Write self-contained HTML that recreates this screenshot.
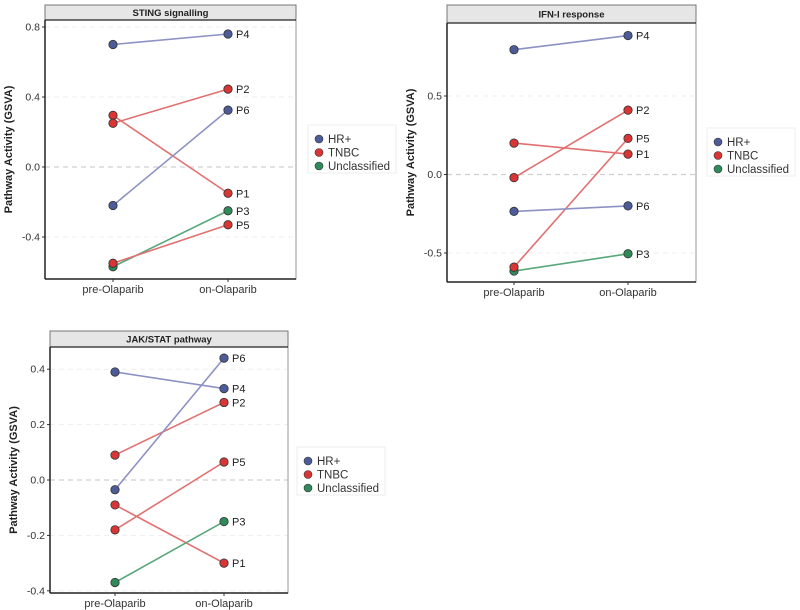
<!DOCTYPE html>
<html><head><meta charset="utf-8"><style>
html,body{margin:0;padding:0;background:#fff}
svg{display:block;font-family:"Liberation Sans",sans-serif}
</style></head><body>
<svg id="c" width="800" height="610"></svg>
<script>
const timepoints=["pre-Olaparib","on-Olaparib"];
const patients=["P1","P2","P3","P4","P5","P6"];
const groups=["TNBC","TNBC","Unclassified","HR+","TNBC","HR+"];
const stingPre=[0.295,0.25,-0.57,0.70,-0.55,-0.22];
const stingOn=[-0.15,0.445,-0.25,0.76,-0.33,0.325];
const stingTicks=[0.8,0.4,0.0,-0.4];
const ifnPre=[0.20,-0.02,-0.615,0.795,-0.59,-0.235];
const ifnOn=[0.13,0.41,-0.505,0.885,0.23,-0.20];
const ifnTicks=[0.5,0.0,-0.5];
const ifnTickLabels=["0.5","0.0","-0.5"];
const jakPre=[-0.09,0.09,-0.37,0.39,-0.18,-0.035];
const jakOn=[-0.30,0.28,-0.15,0.33,0.065,0.44];
const jakTicks=[0.4,0.2,0.0,-0.2,-0.4];
const legendLabels=["HR+","TNBC","Unclassified"];
const ptCol={"HR+":"#4d5b99","TNBC":"#d93535","Unclassified":"#2f8a5a"};
const lnCol={"HR+":"#8d92c4","TNBC":"#e27070","Unclassified":"#5aa87c"};
const svg=document.getElementById('c');
const NS="http://www.w3.org/2000/svg";
function mk(tag,attrs,parent){const e=document.createElementNS(NS,tag);for(const k in attrs)e.setAttribute(k,attrs[k]);(parent||svg).appendChild(e);return e;}
function panel(cfg){
  const g=mk('g',{});
  
  
  const y=v=>cfg.y0-(v)*cfg.k;
  const x=i=>i===0?cfg.xPre:cfg.xOn;
  const s=mk('rect',{x:cfg.l,y:cfg.st,width:cfg.r-cfg.l,height:cfg.t-cfg.st,fill:'#e6e6e6',stroke:'#777','stroke-width':1},g);
  
  
  const st=mk('text',{x:(cfg.l+cfg.r)/2,y:(cfg.st+cfg.t)/2+3.5,'text-anchor':'middle','font-size':9.5,'font-weight':'bold',fill:'#222'},g);
  st.textContent=cfg.title;
  
  
  cfg.ticks.forEach((t,i)=>{
    const yy=y(t);
    mk('line',{x1:cfg.l,x2:cfg.r,y1:yy,y2:yy,stroke:t===0?'#d0d0d0':'#eeeeee','stroke-width':t===0?1.3:1,'stroke-dasharray':'5,4'},g);
    mk('line',{x1:cfg.l-3,x2:cfg.l,y1:yy,y2:yy,stroke:'#333'},g);
    const tl=mk('text',{x:cfg.l-5,y:yy+3.5,'text-anchor':'end','font-size':10.5,fill:'#333'},g);
    tl.textContent=cfg.tickLabels?cfg.tickLabels[i]:t.toFixed(1);
    
    
  });
  mk('rect',{x:cfg.l,y:cfg.t,width:cfg.r-cfg.l,height:cfg.b-cfg.t,fill:'none',stroke:'#999'},g);
  mk('line',{x1:cfg.l,x2:cfg.l,y1:cfg.t,y2:cfg.b,stroke:'#222','stroke-width':1.5},g);
  mk('line',{x1:cfg.l,x2:cfg.r,y1:cfg.b,y2:cfg.b,stroke:'#222','stroke-width':1.5},g);
  mk('line',{x1:cfg.l,x2:cfg.r,y1:cfg.t,y2:cfg.t,stroke:'#222','stroke-width':1.2},g);
  timepoints.forEach((tp,i)=>{
    mk('line',{x1:x(i),x2:x(i),y1:cfg.b,y2:cfg.b+3,stroke:'#333'},g);
    const xl=mk('text',{x:x(i),y:cfg.b+14,'text-anchor':'middle','font-size':11,fill:'#333'},g);
    xl.textContent=tp;
    
    
  });
  const yt=mk('text',{x:0,y:0,'text-anchor':'middle','font-size':11,'font-weight':'bold',fill:'#222',transform:`translate(${cfg.ytx},${(cfg.t+cfg.b)/2}) rotate(-90)`},g);
  yt.textContent='Pathway Activity (GSVA)';
  
  
  patients.forEach((p,i)=>{
    const gr=groups[i];
    const ln=mk('line',{x1:x(0),y1:y(cfg.pre[i]),x2:x(1),y2:y(cfg.on[i]),stroke:lnCol[gr],'stroke-width':1.6},g);
    
    
  });
  patients.forEach((p,i)=>{
    const gr=groups[i];
    [cfg.pre[i],cfg.on[i]].forEach((v,j)=>{
      const c=mk('circle',{cx:x(j),cy:y(v),r:4.2,fill:ptCol[gr],stroke:'#333','stroke-width':0.8},g);
      
      
    });
    const lb=mk('text',{x:x(1)+8,y:y(cfg.on[i])+4,'font-size':11,fill:'#222'},g);
    lb.textContent=p;
    
    
  });
  const lg=mk('g',{},g);
  
  
  mk('rect',{x:cfg.lgx,y:cfg.lgy,width:88,height:48,fill:'#fff',stroke:'#eee'},lg);
  legendLabels.forEach((lab,i)=>{
    const yy=cfg.lgy+14+i*13.5;
    const d=mk('circle',{cx:cfg.lgx+11,cy:yy,r:4,fill:ptCol[lab],stroke:'#333','stroke-width':0.6},lg);
    
    
    const t=mk('text',{x:cfg.lgx+20,y:yy+4,'font-size':11.5,fill:'#333'},lg);
    t.textContent=lab;
    
    
  });
}
panel({name:'sting-panel',title:'STING signalling',l:45,r:296,st:5,t:20,b:279,y0:167,k:175,xPre:113,xOn:228,ticks:stingTicks,pre:stingPre,on:stingOn,ytx:12,lgx:308,lgy:125});
panel({name:'ifn-panel',title:'IFN-I response',l:447,r:696,st:5,t:23,b:282,y0:174.5,k:157,xPre:514,xOn:628,ticks:ifnTicks,tickLabels:ifnTickLabels,pre:ifnPre,on:ifnOn,ytx:414,lgx:707,lgy:128});
panel({name:'jakstat-panel',title:'JAK/STAT pathway',l:50,r:288,st:331,t:347,b:593,y0:480,k:277,xPre:115,xOn:224,ticks:jakTicks,pre:jakPre,on:jakOn,ytx:17,lgx:297,lgy:447});
</script>
</body></html>
